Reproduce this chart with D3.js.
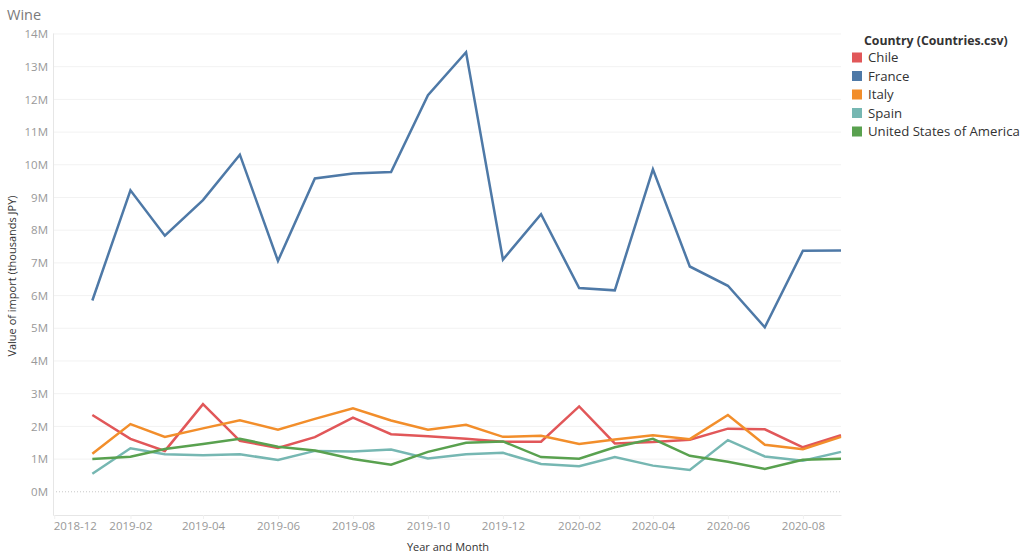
<!DOCTYPE html>
<html lang="en">
<head>
    <meta charset="UTF-8">
    <title>Wine</title>
    <script src="https://d3js.org/d3.v7.min.js"></script>
    <style>
        body {margin: 0; background: #fff}
        text {font-family: 'Open Sans', Lato, sans-serif}
        .tick text {fill: #999; font-size: 11.5px}
        .domain {stroke: #e6e6e6}
    </style>
</head>
<body>
<script>
    const width  = 1024;
    const height = 560;

    const months = ['2019-01','2019-02','2019-03','2019-04','2019-05','2019-06','2019-07',
                    '2019-08','2019-09','2019-10','2019-11','2019-12','2020-01','2020-02',
                    '2020-03','2020-04','2020-05','2020-06','2020-07','2020-08','2020-09'];

    const countries = ['Chile', 'France', 'Italy', 'Spain', 'United States of America'];
    const colors    = ['#e15759', '#4e79a7', '#f28e2b', '#76b7b2', '#59a14f'];

    // values in millions of (thousands JPY)
    const chile  = [2.35, 1.62, 1.25, 2.68, 1.56, 1.34, 1.67, 2.27, 1.76, 1.70, 1.62,
                    1.53, 1.53, 2.61, 1.48, 1.52, 1.59, 1.93, 1.91, 1.36, 1.73];
    const france = [5.85, 9.22, 7.83, 8.92, 10.31, 7.06, 9.58, 9.73, 9.78, 12.13, 13.44,
                    7.10, 8.49, 6.23, 6.16, 9.86, 6.89, 6.30, 5.03, 7.37, 7.38];
    const italy  = [1.16, 2.07, 1.68, 1.94, 2.19, 1.90, 2.23, 2.55, 2.18, 1.90, 2.05,
                    1.68, 1.71, 1.46, 1.60, 1.73, 1.61, 2.35, 1.44, 1.30, 1.68];
    const spain  = [0.55, 1.33, 1.15, 1.12, 1.15, 0.97, 1.25, 1.23, 1.29, 1.02, 1.15,
                    1.19, 0.85, 0.78, 1.06, 0.80, 0.67, 1.58, 1.08, 0.95, 1.22];
    const usa    = [1.00, 1.07, 1.31, 1.46, 1.62, 1.38, 1.26, 1.00, 0.83, 1.22, 1.50,
                    1.54, 1.06, 1.01, 1.36, 1.62, 1.10, 0.92, 0.70, 0.98, 1.01];

    const xTickLabels = ['2018-12','2019-02','2019-04','2019-06','2019-08','2019-10',
                         '2019-12','2020-02','2020-04','2020-06','2020-08'];
    const yTicks = d3.range(0, 15);   // 0M .. 14M

    const parse = d3.timeParse('%Y-%m');
    const seriesValues = [chile, france, italy, spain, usa];
    const series = countries.map((c, i) => ({
        name: c,
        color: colors[i],
        values: months.map((m, j) => ({date: parse(m), value: seriesValues[i][j] * 1e6}))
    }));

    const x = d3.scaleTime()
            .domain([new Date(2018, 10, 30), new Date(2020, 8, 1)])
            .range([53, 841]);
    const y = d3.scaleLinear()
            .domain([-0.71e6, 14.03e6])
            .range([515, 33]);

    const svg = d3.select('body')
            .append('svg')
            .attr('width', width)
            .attr('height', height);

    // title
    svg.append('text')
       .attr('x', 7).attr('y', 20)
       .style('font-size', '14.5px')
       .style('fill', '#7a7a7a')
       .text('Wine');

    // grid lines
    svg.append('g')
       .selectAll('line')
       .data(yTicks)
       .enter()
       .append('line')
       .attr('x1', 53).attr('x2', 841)
       .attr('y1', d => y(d * 1e6)).attr('y2', d => y(d * 1e6))
       .style('stroke', d => d == 0 ? '#c8c8c8' : '#f2f2f2')
       .style('stroke-dasharray', d => d == 0 ? '1,2' : null);

    // y axis
    const yAxis = d3.axisLeft(y)
            .tickValues(yTicks.map(d => d * 1e6))
            .tickFormat(d => (d / 1e6) + 'M')
            .tickSize(0)
            .tickPadding(5);
    svg.append('g')
       .attr('transform', 'translate(53,0)')
       .call(yAxis);

    // x axis
    const xAxis = d3.axisBottom(x)
            .tickValues(xTickLabels.map(parse))
            .tickFormat(d3.timeFormat('%Y-%m'))
            .tickSize(4)
            .tickSizeOuter(0)
            .tickPadding(3);
    const gx = svg.append('g')
       .attr('transform', 'translate(0,515)')
       .call(xAxis);
    gx.selectAll('.tick line').style('stroke', '#f0f0f0');
    gx.select('.tick text').attr('text-anchor', 'start').attr('x', -1);

    // axis titles
    svg.append('text')
       .attr('transform', 'translate(16,276) rotate(-90)')
       .attr('text-anchor', 'middle')
       .style('font-size', '11px')
       .style('fill', '#333')
       .text('Value of import (thousands JPY)');

    svg.append('text')
       .attr('x', 448).attr('y', 551)
       .attr('text-anchor', 'middle')
       .style('font-size', '11px')
       .style('fill', '#333')
       .text('Year and Month');

    // lines
    const line = d3.line()
            .x(d => x(d.date))
            .y(d => y(d.value));

    svg.append('g')
       .selectAll('path')
       .data(series)
       .enter()
       .append('path')
       .attr('d', d => line(d.values))
       .style('fill', 'none')
       .style('stroke', d => d.color)
       .style('stroke-width', 2.5)
       .style('stroke-linejoin', 'miter');

    // legend
    const legend = svg.append('g').attr('transform', 'translate(852,0)');
    legend.append('text')
          .attr('x', 12).attr('y', 45)
          .style('font-size', '12.3px')
          .style('font-weight', 'bold')
          .style('fill', '#333')
          .text('Country (Countries.csv)');

    const items = legend.selectAll('g.item')
          .data(series)
          .enter()
          .append('g').attr('class', 'item')
          .attr('transform', (d, i) => `translate(0,${57.5 + i * 18.5})`);
    items.append('rect')
         .attr('x', 0).attr('y', -5)
         .attr('width', 10).attr('height', 10)
         .style('fill', d => d.color);
    items.append('text')
         .attr('x', 16).attr('y', 4.5)
         .style('font-size', '13.2px')
         .style('fill', '#333')
         .text(d => d.name);
</script>
</body>
</html>
